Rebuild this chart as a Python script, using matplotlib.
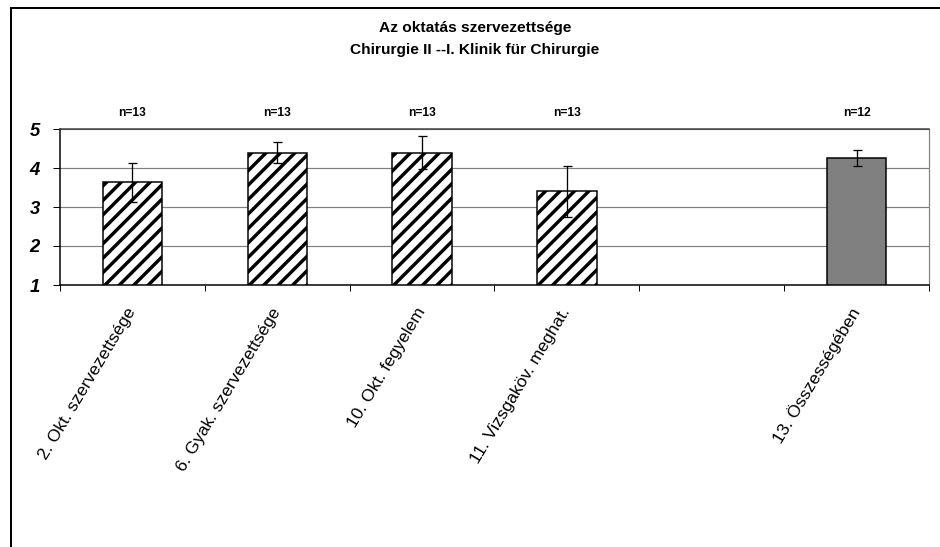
import matplotlib
matplotlib.use("Agg")
import matplotlib.pyplot as plt
from matplotlib.lines import Line2D
import matplotlib as mpl

DPI = 130
def pt(px):
    return px * 72.0 / DPI

categories = ["2. Okt. szervezettsége", "6. Gyak. szervezettsége", "10. Okt. fegyelem",
              "11. Vizsgaköv. meghat.", "", "13. Összességében"]
means = [3.63, 4.39, 4.39, 3.40, None, 4.26]
errs = [0.49, 0.27, 0.42, 0.65, None, 0.20]
n_labels = ["n=13", "n=13", "n=13", "n=13", "", "n=12"]
styles = ["hatch", "hatch", "hatch", "hatch", None, "gray"]
yticks = [1, 2, 3, 4, 5]
title_lines = ["Az oktatás szervezettsége", "Chirurgie II --I. Klinik für Chirurgie"]

plt.rcParams['font.family'] = ['Liberation Sans', 'DejaVu Sans']
plt.rcParams['hatch.linewidth'] = pt(3.4)
plt.rcParams['hatch.color'] = 'black'

fig = plt.figure(figsize=(940 / DPI, 547 / DPI), dpi=DPI)
W, H = 940.0, 547.0
ax = fig.add_axes([60 / W, 1 - 285 / H, (929 - 60) / W, (285 - 129) / H])

bw = 0.41
for i, (m, e, s) in enumerate(zip(means, errs, styles)):
    if m is None:
        continue
    if s == "hatch":
        ax.bar(i, m - 1, bottom=1, width=bw, facecolor='white', edgecolor='black',
               hatch='///', linewidth=pt(1.5), zorder=3)
    else:
        ax.bar(i, m - 1, bottom=1, width=bw, facecolor='#808080', edgecolor='black',
               linewidth=pt(1.5), zorder=3)
    ax.errorbar(i, m, yerr=e, fmt='none', ecolor='black', elinewidth=pt(1.3),
                capsize=pt(4.5), capthick=pt(1.3), zorder=4)

for i, lab in enumerate(n_labels):
    if lab:
        fig.text((60 + (i + 0.5) * (929 - 60) / 6) / W, 1 - 113 / H, lab,
                 ha='center', va='center', fontsize=pt(12), fontweight='bold')

ax.set_xlim(-0.5, 5.5)
ax.set_ylim(1, 5)
ax.set_yticks(yticks)
ax.set_yticklabels([str(v) for v in yticks], fontsize=pt(18.5), fontweight='bold', style='italic')
ax.tick_params(axis='y', length=pt(7), width=pt(1), pad=pt(13), color='black')

ax.set_xticks([x - 0.5 for x in range(7)])
ax.set_xticklabels([])
ax.tick_params(axis='x', which='major', length=pt(6), width=pt(1), color='black')
ax.set_xticks(range(6), minor=True)
ax.set_xticklabels(categories, minor=True, rotation=59, ha='right', va='center',
                   rotation_mode='anchor', fontsize=pt(17.5))
ax.tick_params(axis='x', which='minor', length=0, pad=pt(24))

ax.yaxis.grid(True, color='#808080', linewidth=pt(1.2), zorder=0)
ax.set_axisbelow(True)
ax.spines['left'].set_color('black')
ax.spines['left'].set_linewidth(pt(1.5))
ax.spines['bottom'].set_color('black')
ax.spines['bottom'].set_linewidth(pt(1.5))
ax.spines['top'].set_color('#404040')
ax.spines['top'].set_linewidth(pt(1.5))
ax.spines['right'].set_color('#808080')
ax.spines['right'].set_linewidth(pt(1.2))

fig.text(475 / W, 1 - 28 / H, title_lines[0], ha='center', va='center',
         fontsize=pt(15.5), fontweight='bold')
fig.text(475 / W, 1 - 50 / H, title_lines[1], ha='center', va='center',
         fontsize=pt(15.5), fontweight='bold')

fig.add_artist(Line2D([11 / W, 1.0], [1 - 8 / H, 1 - 8 / H], transform=fig.transFigure,
                      color='black', linewidth=pt(2)))
fig.add_artist(Line2D([11 / W, 11 / W], [0.0, 1 - 8 / H], transform=fig.transFigure,
                      color='black', linewidth=pt(2)))

fig.savefig("out.png", dpi=DPI)
